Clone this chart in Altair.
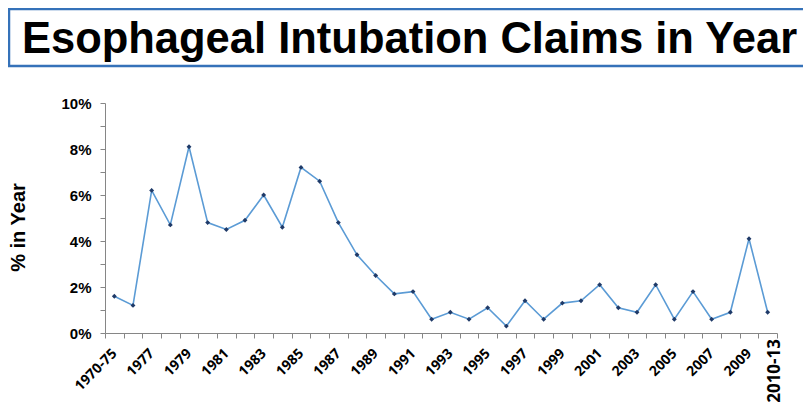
import json
import altair as alt
import pandas as pd

# ---- data -------------------------------------------------------------
categories = ["1970-75", "1976", "1977", "1978", "1979", "1980", "1981", "1982",
              "1983", "1984", "1985", "1986", "1987", "1988", "1989", "1990",
              "1991", "1992", "1993", "1994", "1995", "1996", "1997", "1998",
              "1999", "2000", "2001", "2002", "2003", "2004", "2005", "2006",
              "2007", "2008", "2009", "2010-13"]
pct_in_year = [1.6, 1.2, 6.2, 4.7, 8.1, 4.8, 4.5, 4.9, 6.0, 4.6, 7.2, 6.6,
               4.8, 3.4, 2.5, 1.7, 1.8, 0.6, 0.9, 0.6, 1.1, 0.3, 1.4, 0.6,
               1.3, 1.4, 2.1, 1.1, 0.9, 2.1, 0.6, 1.8, 0.6, 0.9, 4.1, 0.9]
x_tick_labels = ["1970-75", "1977", "1979", "1981", "1983", "1985", "1987",
                 "1989", "1991", "1993", "1995", "1997", "1999", "2001",
                 "2003", "2005", "2007", "2009"]
last_label = ["2010-13"]
y_ticks = [0, 1, 2, 3, 4, 5, 6, 7, 8, 9, 10]
title_text = "Esophageal Intubation Claims in Year"
y_title = "% in Year"

df = pd.DataFrame({"cat": categories, "pct": pct_in_year})
df_last = pd.DataFrame({"cat": last_label})
one = pd.DataFrame({"k": [0]})

W, H = 672, 230
LINE = "#5B9BD5"
MARK = "#1F3A68"
AXIS = "#868686"
BOX = "#3572B9"

x_enc = alt.X(
    "cat:N", sort=categories, title=None,
    scale=alt.Scale(paddingInner=0, paddingOuter=0),
    axis=alt.Axis(
        labelExpr="indexof(" + json.dumps(x_tick_labels) + ", datum.value) >= 0 ? datum.value : ''",
        labelAngle=-45, labelAlign="right", labelBaseline="middle",
        labelFont="Open Sans", labelFontSize=14, labelFontWeight="bold",
        labelColor="#000000", labelPadding=13, labelOverlap=False,
        tickBand="extent", tickSize=5, tickColor=AXIS, domainColor=AXIS,
        grid=False,
    ),
)
y_enc = alt.Y(
    "pct:Q", title=y_title,
    scale=alt.Scale(domain=[0, 10], nice=False),
    axis=alt.Axis(
        values=y_ticks,
        labelExpr="datum.value % 2 == 0 ? datum.value + '%' : ''",
        labelFont="Liberation Sans", labelFontSize=15, labelFontWeight="bold",
        labelColor="#000000", labelPadding=9,
        tickSize=5, tickColor=AXIS, domainColor=AXIS, grid=False,
        titleFont="Liberation Sans", titleFontSize=20, titleFontWeight="bold",
        titleColor="#000000", titleAngle=-90, titleBaseline="middle",
        titleX=-87, titleY=124,
    ),
)

line = alt.Chart(df).mark_line(color=LINE, strokeWidth=1.6).encode(x=x_enc, y=y_enc)
pts = alt.Chart(df).mark_point(shape="diamond", filled=True, size=24,
                               color=MARK, opacity=1).encode(x=x_enc, y=y_enc)

last_txt = alt.Chart(df_last).mark_text(
    angle=270, align="right", baseline="middle", dy=7,
    font="Open Sans", fontSize=17, fontWeight="bold", color="#000000",
).encode(x=alt.X("cat:N", sort=categories), y=alt.value(236), text="cat:N")

title = alt.Chart(one).mark_text(
    align="center", baseline="alphabetic", font="Liberation Sans",
    fontSize=43.5, fontWeight="bold", color="#000000",
).encode(x=alt.value(304.5), y=alt.value(-50), text=alt.value(title_text))

box_top = alt.Chart(one).mark_rule(color=BOX, strokeWidth=2.5).encode(
    x=alt.value(-97), x2=alt.value(700), y=alt.value(-94))
box_bot = alt.Chart(one).mark_rule(color=BOX, strokeWidth=2.5).encode(
    x=alt.value(-97), x2=alt.value(700), y=alt.value(-37))
box_left = alt.Chart(one).mark_rule(color=BOX, strokeWidth=2.5).encode(
    x=alt.value(-96), y=alt.value(-94), y2=alt.value(-37))

chart = alt.layer(line, pts, last_txt, title, box_top, box_bot, box_left).properties(
    width=W, height=H,
    autosize=alt.AutoSizeParams(type="none"),
    padding={"left": 97, "top": 95, "right": 26, "bottom": 75},
).configure_view(stroke=None)

chart.save("out.html", embed_options={"renderer": "svg", "actions": False})
